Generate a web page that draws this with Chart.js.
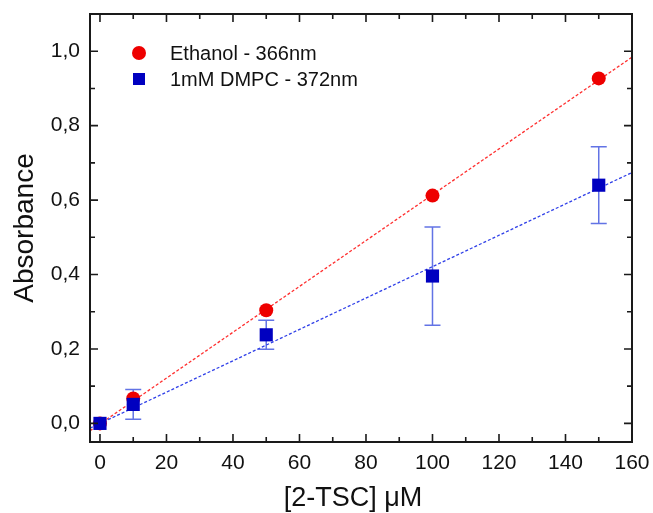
<!DOCTYPE html>
<html lang="en">
<head>
  <meta charset="UTF-8">
  <title>Absorbance vs [2-TSC]</title>
  <script src="https://cdn.jsdelivr.net/npm/chart.js"></script>
  <style>
    body { margin: 0; background: #fff; }
    #wrap { width: 653px; height: 513px; position: relative; }
  </style>
</head>
<body>
  <div id="wrap"><canvas id="absChart"></canvas></div>
  <script>
    // concentrations (uM)
    const conc = [0, 10, 50, 100, 150];
    const ethanolAbs = [0, 0.067, 0.304, 0.612, 0.927];
    const dmpcAbs = [0, 0.051, 0.238, 0.396, 0.640];
    const dmpcErr = [0, 0.040, 0.039, 0.132, 0.103];

    // linear fits, read at the ends of the x range
    const fitX = [-3, 160];
    const ethanolFit = [-0.02, 0.984];
    const dmpcFit = [-0.013, 0.674];

    const xTicks = [0, 10, 20, 30, 40, 50, 60, 70, 80, 90, 100, 110, 120, 130, 140, 150, 160];
    const yTicks = [0, 0.1, 0.2, 0.3, 0.4, 0.5, 0.6, 0.7, 0.8, 0.9, 1.0];
    const xTitle = '[2-TSC] μM';

    const RED = '#ee0000';
    const BLUE = '#0000c0';
    const FONT = 'Liberation Sans, Arial, sans-serif';

    const pts = (xs, ys) => xs.map((x, i) => ({ x, y: ys[i] }));

    // error bars + frame with inward ticks + legend
    const extras = {
      id: 'extras',
      beforeDatasetsDraw(chart) {
        const ctx = chart.ctx;
        const xs = chart.scales.x, ys = chart.scales.y;
        ctx.save();
        ctx.strokeStyle = 'rgba(70,90,225,0.85)';
        ctx.lineWidth = 1.5;
        conc.forEach((c, i) => {
          if (!dmpcErr[i]) return;
          const px = xs.getPixelForValue(c);
          const top = ys.getPixelForValue(dmpcAbs[i] + dmpcErr[i]);
          const bot = ys.getPixelForValue(dmpcAbs[i] - dmpcErr[i]);
          ctx.beginPath();
          ctx.moveTo(px, top); ctx.lineTo(px, bot);
          ctx.moveTo(px - 8, top); ctx.lineTo(px + 8, top);
          ctx.moveTo(px - 8, bot); ctx.lineTo(px + 8, bot);
          ctx.stroke();
        });
        ctx.restore();
      },
      afterDatasetsDraw(chart) {
        const ctx = chart.ctx;
        const { left, right, top, bottom } = chart.chartArea;
        const xs = chart.scales.x, ys = chart.scales.y;
        ctx.save();
        ctx.strokeStyle = '#1a1a1a';
        ctx.lineWidth = 2;
        ctx.strokeRect(left, top, right - left, bottom - top);
        ctx.lineWidth = 1.6;
        ctx.beginPath();
        xTicks.forEach(v => {
          const px = xs.getPixelForValue(v);
          const len = v % 20 === 0 ? 8 : 5;
          ctx.moveTo(px, bottom); ctx.lineTo(px, bottom - len);
          ctx.moveTo(px, top); ctx.lineTo(px, top + len);
        });
        yTicks.forEach(v => {
          const py = ys.getPixelForValue(v);
          const len = Math.round(v * 10) % 2 === 0 ? 8 : 5;
          ctx.moveTo(left, py); ctx.lineTo(left + len, py);
          ctx.moveTo(right, py); ctx.lineTo(right - len, py);
        });
        ctx.stroke();

        // legend
        ctx.font = '20px ' + FONT;
        ctx.textBaseline = 'middle';
        ctx.fillStyle = RED;
        ctx.beginPath();
        ctx.arc(left + 49, top + 39, 7, 0, Math.PI * 2);
        ctx.fill();
        ctx.fillStyle = BLUE;
        ctx.fillRect(left + 43, top + 59, 12, 12);
        ctx.fillStyle = '#111';
        ctx.fillText(chart.data.datasets[0].label, left + 80, top + 40);
        ctx.fillText(chart.data.datasets[1].label, left + 80, top + 66);

        // x axis title (sits a little left of the plot centre in the original)
        ctx.font = '27px ' + FONT;
        ctx.textAlign = 'center';
        ctx.fillText(xTitle, (left + right) / 2 - 8, bottom + 57);
        ctx.restore();
      }
    };

    new Chart(document.getElementById('absChart'), {
      type: 'scatter',
      data: {
        datasets: [
          {
            label: 'Ethanol - 366nm',
            data: pts(conc, ethanolAbs),
            pointStyle: 'circle', pointRadius: 7,
            backgroundColor: RED, borderColor: RED, borderWidth: 0,
            order: 2
          },
          {
            label: '1mM DMPC - 372nm',
            data: pts(conc, dmpcAbs),
            pointStyle: 'rect', pointRadius: 9.3,
            backgroundColor: BLUE, borderColor: BLUE, borderWidth: 0,
            order: 1
          },
          {
            label: 'Ethanol fit',
            data: pts(fitX, ethanolFit),
            showLine: true, pointRadius: 0,
            borderColor: '#ff3030', borderWidth: 1.3, borderDash: [3, 2],
            order: 4
          },
          {
            label: 'DMPC fit',
            data: pts(fitX, dmpcFit),
            showLine: true, pointRadius: 0,
            borderColor: '#3040e8', borderWidth: 1.3, borderDash: [3, 2],
            order: 3
          }
        ]
      },
      options: {
        responsive: true,
        maintainAspectRatio: false,
        animation: false,
        layout: { padding: { top: 14, right: 21, left: 0, bottom: 0 } },
        plugins: { legend: { display: false }, tooltip: { enabled: false } },
        scales: {
          x: {
            type: 'linear', min: -3, max: 160,
            grid: { display: false, drawTicks: false },
            border: { display: false },
            afterBuildTicks: s => { s.ticks = xTicks.map(v => ({ value: v })); },
            afterFit: s => { s.height = 71; s.paddingLeft = 0; s.paddingRight = 0; },
            ticks: {
              autoSkip: false, maxRotation: 0, padding: 9,
              color: '#111', font: { family: FONT, size: 21 },
              callback: v => (v % 20 === 0 ? String(v) : '')
            },
            title: { display: false }
          },
          y: {
            type: 'linear', min: -0.05, max: 1.1,
            grid: { display: false, drawTicks: false },
            border: { display: false },
            afterBuildTicks: s => { s.ticks = yTicks.map(v => ({ value: v })); },
            afterFit: s => { s.width = 90; s.paddingTop = 0; s.paddingBottom = 0; },
            ticks: {
              autoSkip: false, padding: 10,
              color: '#111', font: { family: FONT, size: 21 },
              callback: v => (Math.round(v * 10) % 2 === 0 ? v.toFixed(1).replace('.', ',') : '')
            },
            title: {
              display: true, text: 'Absorbance', color: '#111',
              font: { family: FONT, size: 28, lineHeight: 1 },
              padding: { top: 11, bottom: 0 }
            }
          }
        }
      },
      plugins: [extras]
    });
  </script>
</body>
</html>
